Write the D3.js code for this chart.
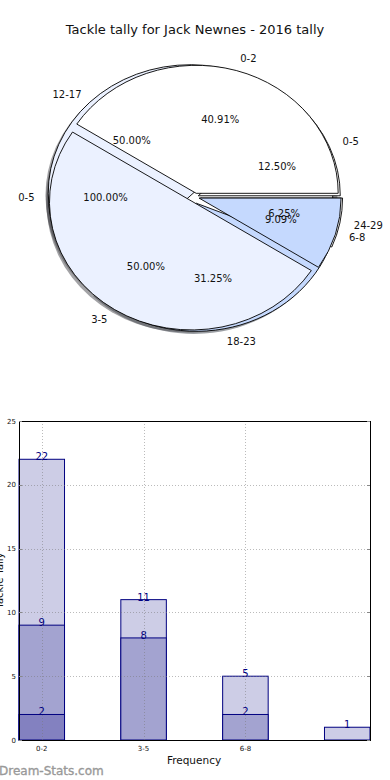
<!DOCTYPE html>
<html>
<head>
<meta charset="utf-8">
<script src="https://cdn.jsdelivr.net/npm/d3@7"></script>
<style>
  html, body { margin: 0; padding: 0; background: #fff; }
  svg { display: block; font-family: "DejaVu Sans", sans-serif; }
</style>
</head>
<body>
<svg id="chart" width="390" height="780"></svg>
<script>
// ---------- data ----------
const chartTitle = "Tackle tally for Jack Newnes - 2016 tally";

// three overlaid pies (drawn bottom to top)
const pie3Labels = ["0-5"];
const pie3Values = [1];
const pie2Labels = ["0-5", "12-17", "18-23", "24-29"];
const pie2Values = [2, 8, 5, 1];
const pie1Labels = ["0-2", "3-5", "6-8"];
const pie1Values = [9, 11, 2];

// bar chart
const barCategories = ["0-2", "3-5", "6-8", ""];
const seriesTotal = [22, 11, 5, 1];
const seriesMid = [9, 8, 2, null];
const seriesLow = [2, null, null, null];
const yTicks = [0, 5, 10, 15, 20, 25];
const xAxisLabel = "Frequency";
const yAxisLabel = "Tackle Tally";
const watermark = "Dream-Stats.com";

// ---------- styling ----------
const pieColors = ["#ffffff", "#ebf1ff", "#c5d9fe"];
const pieLayers = [
  { labels: pie3Labels, values: pie3Values, explode: [0.03] },
  { labels: pie2Labels, values: pie2Values, explode: [0.025, 0.03, 0.05, 0.04] },
  { labels: pie1Labels, values: pie1Values, explode: [0.03, 0.04, 0.03] }
];

const svg = d3.select("#chart");

svg.append("text")
  .attr("x", 195).attr("y", 33.5)
  .attr("text-anchor", "middle")
  .attr("font-size", 13)
  .attr("fill", "#111")
  .text(chartTitle);

// ---------- pie ----------
const cx = 195, cy = 197, rx = 142, ry = 128;
const pieGen = d3.pie().sort(null).startAngle(Math.PI / 2).endAngle(Math.PI / 2 - 2 * Math.PI);
const arcGen = d3.arc().innerRadius(0).outerRadius(1);

function shade(c) {
  const col = d3.rgb(c);
  return d3.rgb(col.r * 0.3, col.g * 0.3, col.b * 0.3).toString();
}

const layerData = pieLayers.map(layer => {
  const arcs = pieGen(layer.values);
  const total = d3.sum(layer.values);
  return arcs.map((a, i) => {
    const mid = (a.startAngle + a.endAngle) / 2;
    const e = layer.explode[i] || 0;
    return {
      arc: a,
      label: layer.labels[i],
      pct: (layer.values[i] / total * 100).toFixed(2) + "%",
      mid,
      ox: e * rx * Math.sin(mid),
      oy: -e * ry * Math.cos(mid),
      color: pieColors[i % pieColors.length]
    };
  });
});

const pieG = svg.append("g");
layerData.forEach(wedges => {
  wedges.forEach(w => {
    pieG.append("path")
      .attr("d", arcGen(w.arc))
      .attr("transform", `translate(${cx + w.ox - 2.8},${cy + w.oy + 2.6}) scale(${rx},${ry})`)
      .attr("fill", shade(w.color))
      .attr("fill-opacity", 0.5);
  });
});
layerData.forEach(wedges => {
  wedges.forEach(w => {
    pieG.append("path")
      .attr("d", arcGen(w.arc))
      .attr("transform", `translate(${cx + w.ox},${cy + w.oy}) scale(${rx},${ry})`)
      .attr("fill", w.color)
      .attr("stroke", "#000")
      .attr("stroke-width", 0.9)
      .attr("vector-effect", "non-scaling-stroke")
      .attr("stroke-linejoin", "round");
  });
});
layerData.forEach(wedges => {
  wedges.forEach(w => {
    const lx = cx + w.ox + 1.1 * rx * Math.sin(w.mid);
    const ly = cy + w.oy - 1.1 * ry * Math.cos(w.mid);
    pieG.append("text")
      .attr("x", lx).attr("y", ly)
      .attr("dy", "0.36em")
      .attr("font-size", 10)
      .attr("text-anchor", Math.sin(w.mid) > 0 ? "start" : "end")
      .attr("fill", "#111")
      .text(w.label);
    const px = cx + w.ox + 0.6 * rx * Math.sin(w.mid);
    const py = cy + w.oy - 0.6 * ry * Math.cos(w.mid);
    pieG.append("text")
      .attr("x", px).attr("y", py)
      .attr("dy", "0.36em")
      .attr("font-size", 10)
      .attr("text-anchor", "middle")
      .attr("fill", "#111")
      .text(w.pct);
  });
});

// ---------- bar chart ----------
const plotLeft = 19, plotRight = 370, plotTop = 421, plotBottom = 740;
const x = d3.scaleBand().domain(d3.range(barCategories.length))
  .range([plotLeft, plotRight]).paddingInner(0.553).paddingOuter(0);
const y = d3.scaleLinear().domain([0, 25]).range([plotBottom, plotTop]);

const barG = svg.append("g");
const seriesList = [
  { values: seriesTotal, fill: "#cdcde6" },
  { values: seriesMid, fill: "#a3a3d0" },
  { values: seriesLow, fill: "#8381c0" }
];
seriesList.forEach(s => {
  barG.selectAll(null)
    .data(s.values.map((v, i) => ({ v, i })).filter(d => d.v != null))
    .join("rect")
    .attr("x", d => x(d.i))
    .attr("y", d => y(d.v))
    .attr("width", x.bandwidth())
    .attr("height", d => y(0) - y(d.v))
    .attr("fill", s.fill)
    .attr("stroke", "#000080")
    .attr("stroke-width", 1);
});

const gridG = svg.append("g")
  .attr("stroke", "rgba(120,120,120,0.5)")
  .attr("stroke-width", 1)
  .attr("stroke-dasharray", "1,2");
yTicks.forEach(t => {
  gridG.append("line")
    .attr("x1", plotLeft).attr("x2", plotRight)
    .attr("y1", Math.round(y(t)) + 0.5).attr("y2", Math.round(y(t)) + 0.5);
});
barCategories.forEach((c, i) => {
  if (!c) return;
  const xc = Math.round(x(i) + x.bandwidth() / 2) + 0.5;
  gridG.append("line")
    .attr("x1", xc).attr("x2", xc)
    .attr("y1", plotTop).attr("y2", plotBottom);
});

seriesList.forEach(s => {
  s.values.forEach((v, i) => {
    if (v == null) return;
    barG.append("text")
      .attr("x", x(i) + x.bandwidth() / 2)
      .attr("y", y(v) + 1)
      .attr("text-anchor", "middle")
      .attr("font-size", 10)
      .attr("fill", "#000080")
      .text(v);
  });
});

svg.append("rect")
  .attr("x", plotLeft + 0.5).attr("y", plotTop + 0.5)
  .attr("width", plotRight - plotLeft).attr("height", plotBottom - plotTop)
  .attr("fill", "none").attr("stroke", "#000").attr("stroke-width", 1);

const tickG = svg.append("g").attr("stroke", "#888").attr("stroke-width", 1);
yTicks.forEach(t => {
  tickG.append("line").attr("x1", plotLeft).attr("x2", plotLeft + 3)
    .attr("y1", Math.round(y(t)) + 0.5).attr("y2", Math.round(y(t)) + 0.5);
  tickG.append("line").attr("x1", plotRight - 3).attr("x2", plotRight)
    .attr("y1", Math.round(y(t)) + 0.5).attr("y2", Math.round(y(t)) + 0.5);
});

yTicks.forEach(t => {
  svg.append("text")
    .attr("x", 16).attr("y", y(t))
    .attr("dy", "0.36em")
    .attr("text-anchor", "end")
    .attr("font-size", 7)
    .attr("fill", "#111")
    .text(t);
});
barCategories.forEach((c, i) => {
  if (!c) return;
  svg.append("text")
    .attr("x", x(i) + x.bandwidth() / 2)
    .attr("y", 751)
    .attr("text-anchor", "middle")
    .attr("font-size", 7)
    .attr("fill", "#111")
    .text(c);
});

svg.append("text")
  .attr("x", 194).attr("y", 764)
  .attr("text-anchor", "middle")
  .attr("font-size", 10.5)
  .attr("fill", "#111")
  .text(xAxisLabel);

svg.append("text")
  .attr("transform", `translate(3,${(plotTop + plotBottom) / 2}) rotate(-90)`)
  .attr("text-anchor", "middle")
  .attr("font-size", 10)
  .attr("fill", "#111")
  .text(yAxisLabel);

svg.append("text")
  .attr("x", -1).attr("y", 775)
  .attr("font-size", 12)
  .attr("fill", "#999")
  .attr("stroke", "#999")
  .attr("stroke-width", 0.35)
  .text(watermark);
</script>
</body>
</html>
